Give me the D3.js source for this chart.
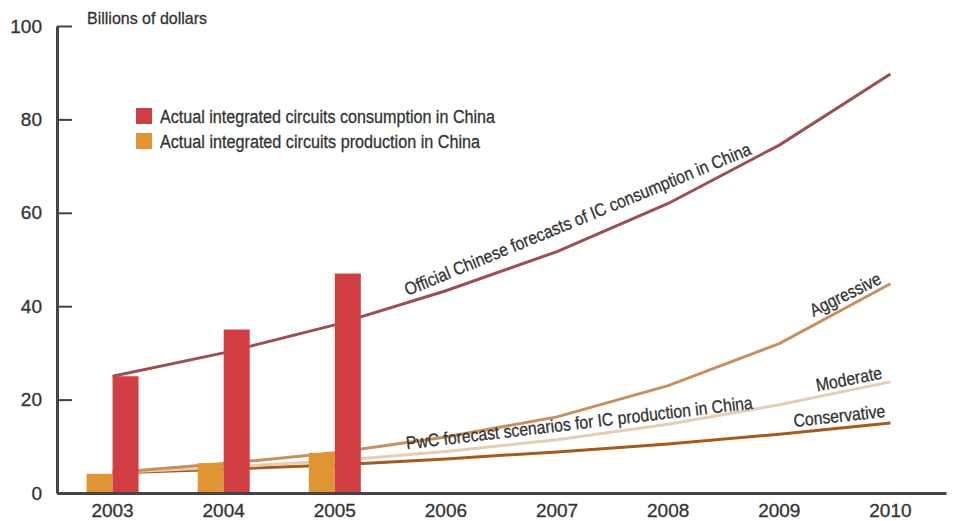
<!DOCTYPE html>
<html>
<head>
<meta charset="utf-8">
<script src="https://cdn.jsdelivr.net/npm/d3@7"></script>
<style>
  body { margin: 0; background: #fff; }
  svg text { font-family: "Liberation Sans", Arial, sans-serif; fill: #333; stroke: #333; stroke-width: 0.3px; }
</style>
</head>
<body>
<div id="chart"></div>
<script>
// data
const years = ["2003", "2004", "2005", "2006", "2007", "2008", "2009", "2010"];
const yTicks = [0, 20, 40, 60, 80, 100];

const barYears = ["2003", "2004", "2005"];
const consumption = [25, 35, 47];
const production = [4.1, 6.4, 8.6];

const officialForecast = [25, 30, 36, 43.3, 51.7, 62, 74.5, 89.7];
const aggressive = [4.4, 6.3, 8.6, 12, 16.3, 23, 32, 44.8];
const moderate = [4.4, 5.5, 6.9, 8.9, 11.4, 14.7, 18.9, 23.8];
const conservative = [4.3, 5.1, 6.0, 7.3, 8.8, 10.5, 12.6, 15.0];

const legendLabels = [
    "Actual integrated circuits consumption in China",
    "Actual integrated circuits production in China"
];

const width = 953, height = 521;

const svg = d3.select("#chart")
    .append("svg")
    .attr("width", width)
    .attr("height", height);

const x = d3.scaleBand()
    .domain(years)
    .range([57, 946]);

const y = d3.scaleLinear()
    .domain([0, 100])
    .range([493, 26]);

const cx = d => x(d) + x.bandwidth() / 2;

// lines
const line = d3.line()
    .x((d, i) => cx(years[i]))
    .y(d => y(d));

const series = [
    { values: officialForecast, color: "#9a5051" },
    { values: aggressive, color: "#c6905f" },
    { values: moderate, color: "#e7ccb4" },
    { values: conservative, color: "#a65b1d" }
];

svg.selectAll(".line")
    .data(series.slice().reverse())
    .enter()
    .append("path")
    .attr("class", "line")
    .attr("d", d => line(d.values))
    .attr("fill", "none")
    .attr("stroke", d => d.color)
    .attr("stroke-width", 3);

// bars
const barW = 26;
svg.selectAll(".prod")
    .data(barYears)
    .enter()
    .append("rect")
    .attr("x", d => cx(d) - barW)
    .attr("y", (d, i) => y(production[i]))
    .attr("width", barW)
    .attr("height", (d, i) => y(0) - y(production[i]))
    .attr("fill", "#e09535");

svg.selectAll(".cons")
    .data(barYears)
    .enter()
    .append("rect")
    .attr("x", d => cx(d))
    .attr("y", (d, i) => y(consumption[i]))
    .attr("width", barW)
    .attr("height", (d, i) => y(0) - y(consumption[i]))
    .attr("fill", "#d03e44");

// axes
const xAxis = svg.append("g")
    .attr("transform", `translate(0,${y(0)})`)
    .call(d3.axisBottom(x).tickSize(0).tickPadding(11));
xAxis.select(".domain").attr("stroke", "#444").attr("stroke-width", 3);
xAxis.selectAll("text").style("font-size", "19px").attr("fill", "#333");

const yAxis = svg.append("g")
    .attr("transform", "translate(57,0)")
    .call(d3.axisLeft(y).tickValues(yTicks).tickSize(-15).tickSizeOuter(0).tickPadding(15));
yAxis.select(".domain").attr("stroke", "#444").attr("stroke-width", 3);
yAxis.selectAll(".tick line").attr("stroke", "#444").attr("stroke-width", 2);
yAxis.selectAll("text").style("font-size", "19px").attr("fill", "#333");

svg.append("text")
    .attr("x", 87)
    .attr("y", 24)
    .attr("textLength", 120)
    .attr("lengthAdjust", "spacingAndGlyphs")
    .style("font-size", "17px")
    .text("Billions of dollars");

// legend
const legendColors = ["#d03e44", "#e09535"];
const legendWidths = [335, 320];
const legend = svg.selectAll(".legend")
    .data(legendLabels)
    .enter()
    .append("g")
    .attr("transform", (d, i) => `translate(136,${108 + i * 25})`);

legend.append("rect")
    .attr("width", 16)
    .attr("height", 16)
    .attr("fill", (d, i) => legendColors[i]);

legend.append("text")
    .attr("x", 24)
    .attr("y", 15)
    .attr("textLength", (d, i) => legendWidths[i])
    .attr("lengthAdjust", "spacingAndGlyphs")
    .style("font-size", "18px")
    .text(d => d);

// line annotations
const notes = [
    { text: "Official Chinese forecasts of IC consumption in China", cx: 580, cy: 225, angle: -22.4, len: 373 },
    { text: "PwC forecast scenarios for IC production in China", cx: 580, cy: 429, angle: -6.7, len: 349 },
    { text: "Aggressive", cx: 848, cy: 300, angle: -26.2, len: 77 },
    { text: "Moderate", cx: 850, cy: 385, angle: -11.1, len: 67 },
    { text: "Conservative", cx: 840, cy: 422, angle: -6.3, len: 92 }
];

svg.selectAll(".note")
    .data(notes)
    .enter()
    .append("text")
    .attr("class", "note")
    .attr("transform", d => `translate(${d.cx},${d.cy}) rotate(${d.angle})`)
    .attr("text-anchor", "middle")
    .attr("textLength", d => d.len)
    .attr("lengthAdjust", "spacingAndGlyphs")
    .style("font-size", "18px")
    .text(d => d.text);
</script>
</body>
</html>
